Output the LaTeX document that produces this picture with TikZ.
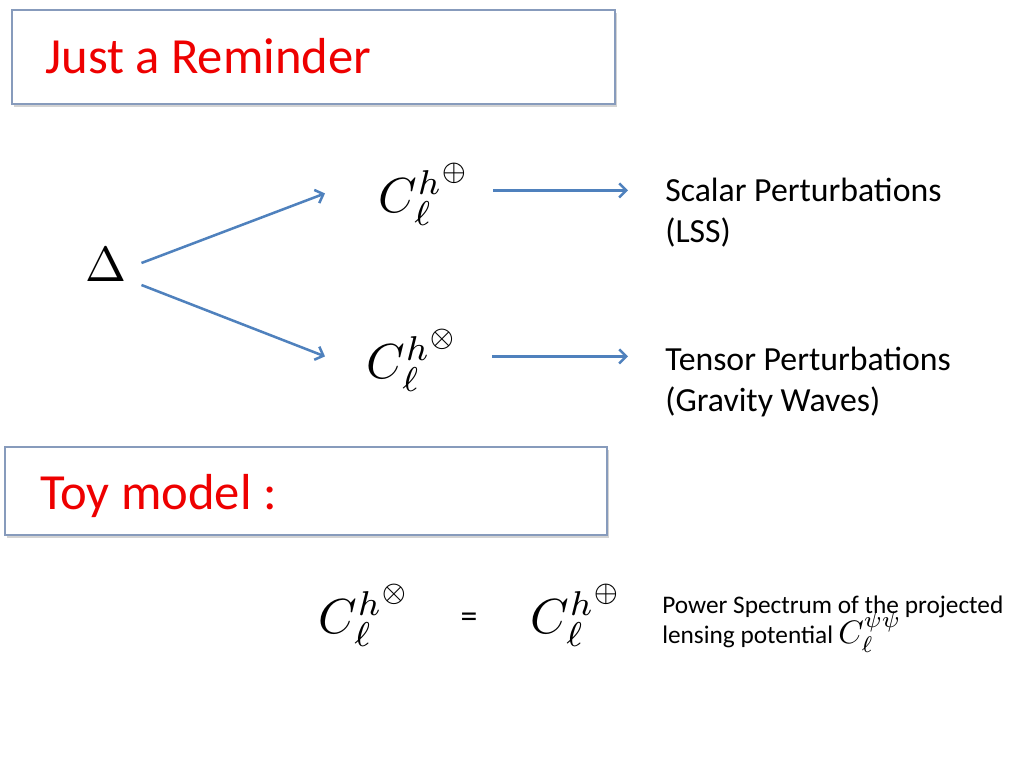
\documentclass[tikz,border=0pt]{standalone}
\usepackage{amsmath}
\usepackage{fontspec}
\setmainfont{Carlito}
\usetikzlibrary{arrows.meta,shadows}
\definecolor{arrowblue}{RGB}{79,129,189}
\definecolor{boxgray}{RGB}{135,155,188}
\definecolor{titlered}{RGB}{238,0,0}

\begin{document}
\begin{tikzpicture}[x=0.025cm,y=-0.025cm,
  flow/.style={draw=arrowblue,line width=1.8pt,-{Straight Barb[length=5pt,width=10pt]}},
  framebox/.style={draw=boxgray,line width=0.8pt,fill=white,
    drop shadow={opacity=0.35,shadow xshift=1.5pt,shadow yshift=-2pt}},
  heading/.style={text=titlered,font=\fontsize{36}{43}\selectfont,anchor=base west,inner sep=0pt},
  body/.style={font=\fontsize{24}{29}\selectfont,anchor=base west,inner sep=0pt},
  small/.style={font=\fontsize{18}{22}\selectfont,anchor=base west,inner sep=0pt},
  bigmath/.style={font=\fontsize{10}{12}\selectfont,scale=3.5,inner sep=0pt}]
  \useasboundingbox (0,0) rectangle (1024,768);
  \draw[framebox] (12,10) rectangle (615,104);
  \draw[framebox] (5,447) rectangle (607,535);
  \node[heading] (title) at (45,74) {Just a Reminder};
  \node[heading] (toy) at (40,509) {Toy model :};
  \node[bigmath] (delta) at (106,265) {$\Delta$};
  \node[bigmath,anchor=base west] (cplus) at (378,212) {$C_\ell^{h^{\oplus}}$};
  \node[bigmath,anchor=base west] (ccross) at (366,378) {$C_\ell^{h^{\otimes}}$};
  \node[body] (scalar) at (665,201) {Scalar Perturbations};
  \node[body] (lss) at (665,242) {(LSS)};
  \node[body] (tensor) at (665,370) {Tensor Perturbations};
  \node[body] (gravity) at (665,411) {(Gravity Waves)};
  \draw[flow] ([shift={(14,-2)}]delta.east) -- ([shift={(-53,-1)}]cplus.west);
  \draw[flow] ([shift={(14,20)}]delta.east) -- ([shift={(-41,-4)}]ccross.west);
  \draw[flow] ([shift={(20,-4)}]cplus.east) -- ([shift={(-37,-4)}]cplus.east -| scalar.west);
  \draw[flow] ([shift={(31,-4)}]ccross.east) -- ([shift={(-37,-4)}]ccross.east -| tensor.west);
  \node[bigmath,anchor=base west] (lhs) at (318,633) {$C_\ell^{h^{\otimes}}$};
  \node[body,anchor=center] (eq) at (469,620) {=};
  \node[bigmath,anchor=base west] (rhs) at (530,633) {$C_\ell^{h^{\oplus}}$};
  \node[small] (power) at (662,613) {Power Spectrum of the projected};
  \node[small] (lensing) at (662,643) {lensing potential};
  \node[bigmath,scale=0.66,anchor=base west] (cpsi) at ([xshift=3pt]lensing.base east) {$C_\ell^{\psi\psi}$};
\end{tikzpicture}
\end{document}
